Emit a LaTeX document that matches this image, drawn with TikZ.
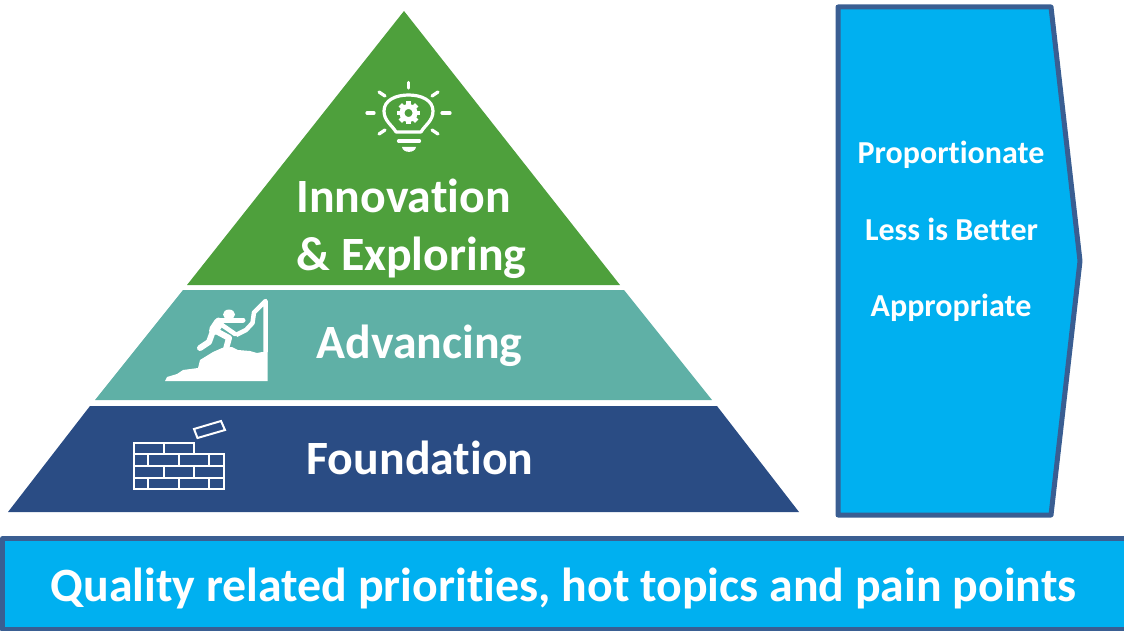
\documentclass[tikz,border=0pt]{standalone}
\usepackage{fontspec}
\setmainfont{Carlito}[BoldFont={Carlito Bold},Ligatures=NoCommon]
\definecolor{grn}{HTML}{4EA03C}
\definecolor{teal}{HTML}{5FB0A6}
\definecolor{navy}{HTML}{2A4C84}
\definecolor{sky}{HTML}{00B0F0}
\definecolor{edge}{HTML}{3A5E92}
\tikzset{
  lbl/.style={text=white,inner sep=0pt,anchor=center},
  big/.style={lbl,font=\bfseries\fontsize{47.8}{50}\selectfont},
  small/.style={lbl,font=\bfseries\fontsize{32}{36}\selectfont},
  panel/.style={fill=sky,draw=edge,line width=5pt,line join=round},
  ico/.style={draw=white,line width=3.2pt,line cap=round,line join=round},
  brick/.style={draw=white,line width=2pt,line join=miter},
  limb/.style={draw=white,line cap=round,line join=round}
}
\begin{document}
\begin{tikzpicture}[x=1pt,y=-1pt]
\useasboundingbox (0,0) rectangle (1124,631);
% pyramid
\fill[grn] (404,11) -- (620,285) -- (187,285) -- cycle;
\fill[teal] (183,290) -- (624,290) -- (712,400) -- (95,400) -- cycle;
\fill[navy] (90,406) -- (717,406) -- (799,512) -- (8,512) -- cycle;
% panels
\draw[panel] (838,7) -- (1051,7) -- (1080,261) -- (1051,515) -- (838,515) -- cycle;
\draw[panel] (2.5,538.5) -- (1130,538.5) -- (1130,629.5) -- (2.5,629.5) -- cycle;
% labels
\node[big] (inno) at (403.5,196) {Innovation};
\node[big] (expl) at (411.5,257.5) {\& Exploring};
\node[big] (adv) at (419.5,345.5) {Advancing};
\node[big] (found) at (420,458) {Foundation};
\node[small] (p1) at (951,154.5) {Proportionate};
\node[small] (p2) at (951.5,229) {Less is Better};
\node[small] (p3) at (951,308) {Appropriate};
\node[big] (qual) at (563.5,588) {Quality related priorities, hot topics and pain points};
% bulb icon
\begin{scope}[ico]
\draw (396,132) .. controls (392,125) and (384,121) .. (384,111)
  .. controls (384,100) and (396,95) .. (408.5,95)
  .. controls (421,95) and (433,100) .. (433,111)
  .. controls (433,121) and (425,125) .. (421,132) -- cycle;
\draw (398.5,141) -- (419.5,141);
\draw (408.5,82.5) -- (408.5,88);
\draw (379,92) -- (385,96);
\draw (438,92) -- (432,96);
\draw (367,113) -- (374,113);
\draw (442,113) -- (450,113);
\draw (379,134) -- (385,130);
\draw (438,134) -- (432,130);
\end{scope}
\fill[white] (402,147) -- (416,147) .. controls (415,153.5) and (403,153.5) .. (402,147) -- cycle;
\foreach \a in {0,45,...,315}{\fill[white,rotate around={\a:(408.5,113)}] (406.1,101.5) rectangle (410.9,106);}
\draw[white,line width=5pt] (408.5,113) circle (6.5pt);
% climber icon
\fill[white] (165,381) -- (167,377) -- (177,374) -- (183,370) -- (198,368) -- (200,360) -- (213,352) -- (222,348) -- (232,347)
  -- (238,350) -- (250,351) -- (257,353) -- (262,352) -- (267.5,352) -- (267.5,381) -- cycle;
\draw[limb,line width=4.5pt,line cap=butt] (265.5,352) -- (265.5,301) -- (254,312.5) -- (252.5,323) -- (246,330) -- (236,335);
\fill[white] (229,314.5) ellipse (6pt and 5pt);
\draw[limb,line width=5pt] (218,320) -- (243,320);
\draw[limb,line width=10pt] (219,322.5) -- (214,330);
\draw[limb,line width=6pt] (213,331) -- (209,342) -- (200,348);
\draw[limb,line width=6pt] (216,331) -- (229,338) -- (226,349);
\draw[limb,line width=4.5pt] (222,325) -- (235,334);
% brick wall icon
\begin{scope}[brick]
\draw (134,442.5) -- (194,442.5) -- (194,454) -- (224,454) -- (224,489) -- (134,489) -- cycle;
\draw (134,454) -- (194,454);
\draw (134,466) -- (224,466);
\draw (134,477.5) -- (224,477.5);
\draw (164,442.5) -- (164,454);
\draw (148,454) -- (148,466);
\draw (178.5,454) -- (178.5,466);
\draw (209,454) -- (209,466);
\draw (164,466) -- (164,477.5);
\draw (194,466) -- (194,477.5);
\draw (148,477.5) -- (148,489);
\draw (178.5,477.5) -- (178.5,489);
\draw (209,477.5) -- (209,489);
\draw (194,429) -- (221,421) -- (225,430) -- (197.5,438) -- cycle;
\end{scope}
\end{tikzpicture}
\end{document}
